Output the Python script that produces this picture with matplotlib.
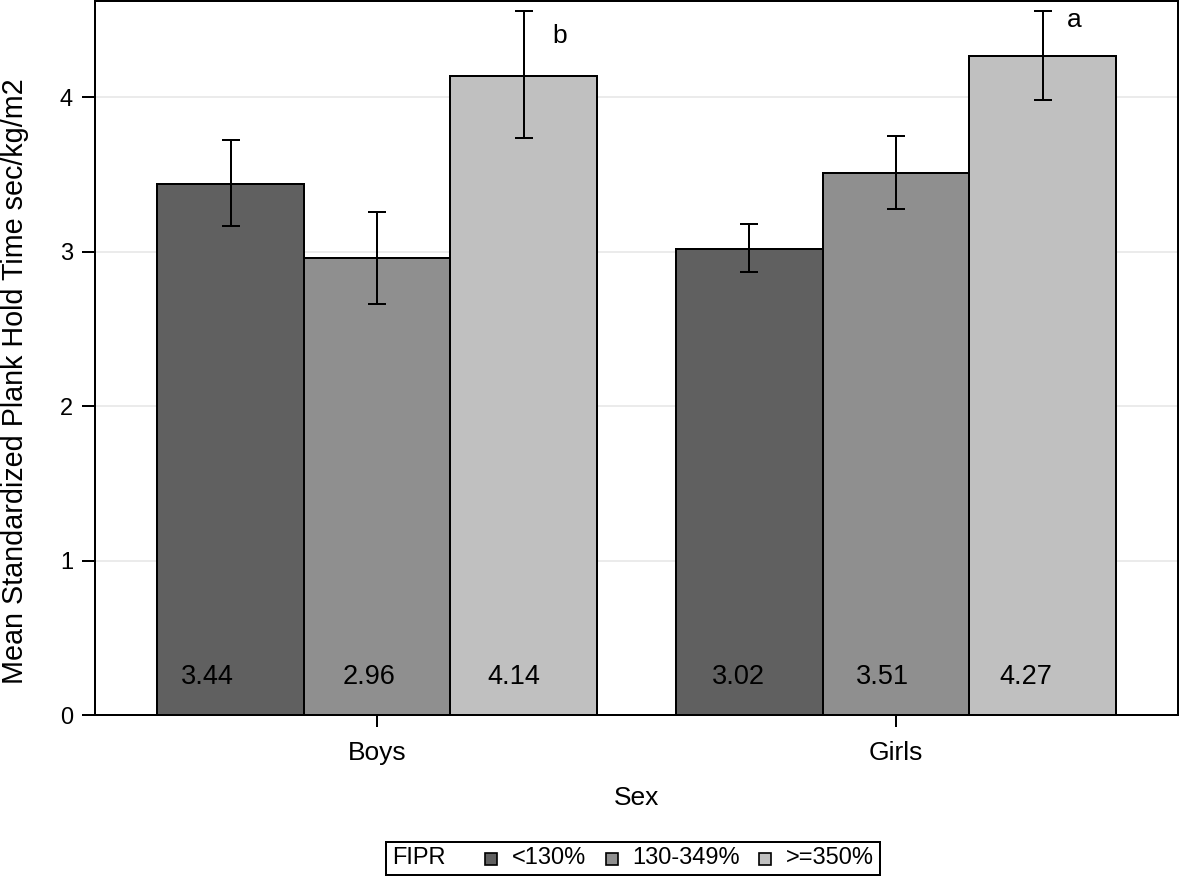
import matplotlib
matplotlib.use('Agg')
import matplotlib.pyplot as plt
import numpy as np
from matplotlib.offsetbox import AnchoredOffsetbox, HPacker, TextArea, DrawingArea
from matplotlib.patches import Rectangle

plt.rcParams['font.family'] = ['Liberation Sans', 'DejaVu Sans']

# ---------------- data ----------------
sexes = ['Boys', 'Girls']
fipr_groups = ['<130%', '130-349%', '>=350%']
means_boys = [3.44, 2.96, 4.14]
means_girls = [3.02, 3.51, 4.27]
ci_low_boys = [3.165, 2.662, 3.733]
ci_high_boys = [3.724, 3.258, 4.56]
ci_low_girls = [2.87, 3.277, 3.98]
ci_high_girls = [3.18, 3.75, 4.56]
sig_letters = ['b', 'a']          # on the >=350% bar of each sex
legend_title = 'FIPR'
x_label = 'Sex'
y_label = 'Mean Standardized Plank Hold Time sec/kg/m2'
y_ticks = [0, 1, 2, 3, 4]

# ---------------- style ----------------
colors = ['#606060', '#8f8f8f', '#c0c0c0']
PX = 0.72  # points per pixel at dpi 100
label_dx_px = [[-23, -8, -10], [-11.5, -14, -17]]
letter_off_px = [(36, -32), (32, -16)]

fig = plt.figure(figsize=(11.8, 8.81), dpi=100)
ax = fig.add_axes([95 / 1180, 1 - 715 / 881, 1083 / 1180, 714 / 881])

means = np.array([means_boys, means_girls])
lows = np.array([ci_low_boys, ci_low_girls])
highs = np.array([ci_high_boys, ci_high_girls])

x = np.arange(len(sexes))
w = 0.2824
offsets = (np.arange(len(fipr_groups)) - 1) * w
lw = 1.44

for j in range(len(fipr_groups)):
    xs = x + offsets[j]
    ax.bar(xs, means[:, j], width=w, color=colors[j], edgecolor='black',
           linewidth=lw, zorder=2)
    yerr = [means[:, j] - lows[:, j], highs[:, j] - means[:, j]]
    ax.errorbar(xs, means[:, j], yerr=yerr, fmt='none', ecolor='black',
                elinewidth=lw, capsize=6.8, capthick=lw, zorder=3)
    for i in range(len(sexes)):
        ax.annotate(f'{means[i, j]:.2f}', xy=(xs[i], 0.245),
                    xytext=(label_dx_px[i][j] * PX, 0), textcoords='offset points',
                    ha='center', va='center', fontsize=19.5, zorder=4)

for i, letter in enumerate(sig_letters):
    j = len(fipr_groups) - 1
    ax.annotate(letter, xy=(x[i] + offsets[j], highs[i, j]),
                xytext=(letter_off_px[i][0] * PX, letter_off_px[i][1] * PX),
                textcoords='offset points', ha='center', va='baseline',
                fontsize=19, zorder=4)

ax.set_xlim((95 - 377.2) / 518.8, (1178 - 377.2) / 518.8)
ax.set_ylim(0, 714.3 / 154.5)
ax.set_xticks(x)
ax.set_xticklabels(sexes)
ax.set_yticks(y_ticks)
ax.set_yticklabels([str(t) for t in y_ticks])

ax.yaxis.grid(True, color='#ebebeb', linewidth=lw)
ax.set_axisbelow(True)
for s in ax.spines.values():
    s.set_linewidth(lw)

ax.tick_params(axis='y', length=9.4, width=lw, pad=6.5, labelsize=17)
ax.tick_params(axis='x', length=8.6, width=lw, pad=10, labelsize=19)

ax.set_xlabel(x_label, fontsize=19)
ax.xaxis.set_label_coords(0.5, (715 - 786) / 714)
ax.set_ylabel(y_label, fontsize=20.7)
ax.yaxis.set_label_coords((29 - 95) / 1083, (715 - 381) / 714)

# ---------------- legend ----------------
fs = 17
items = []
for c, lab in zip(colors, fipr_groups):
    da = DrawingArea(12 * PX, 12 * PX, 0, 0)
    da.add_artist(Rectangle((0, 0), 12 * PX, 12 * PX, facecolor=c,
                            edgecolor='black', linewidth=1.2))
    items.append(HPacker(children=[da, TextArea(lab, textprops=dict(fontsize=fs))],
                         sep=15 * PX, align='center'))
items_box = HPacker(children=items, sep=19 * PX, align='center')
title_box = TextArea(legend_title, textprops=dict(fontsize=fs))
full = HPacker(children=[title_box, items_box], sep=40 * PX, align='center')
ab = AnchoredOffsetbox(loc='center', child=full, pad=0.25, borderpad=0,
                       frameon=True, prop=dict(size=fs),
                       bbox_to_anchor=(633 / 1180, 1 - 858.5 / 881),
                       bbox_transform=fig.transFigure)
ab.patch.set_boxstyle('square', pad=0)
ab.patch.set_linewidth(lw)
ab.patch.set_edgecolor('black')
fig.add_artist(ab)

fig.savefig('out.png', dpi=100)
